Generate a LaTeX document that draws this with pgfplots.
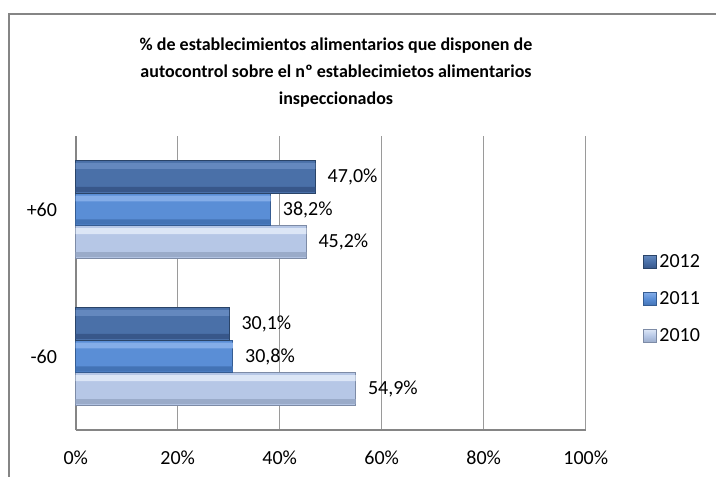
\documentclass[border=0pt]{standalone}
\usepackage{pgfplots}
\usepackage{pgfplotstable}
\pgfplotsset{compat=1.18}
\usepackage{fontspec}
\setmainfont{Carlito}
\definecolor{t12}{HTML}{6488BE}
\definecolor{m12}{HTML}{4A70A8}
\definecolor{b12}{HTML}{38578A}
\definecolor{d12}{HTML}{2A4468}
\definecolor{t11}{HTML}{84ADE8}
\definecolor{m11}{HTML}{5A8ED6}
\definecolor{b11}{HTML}{4373B5}
\definecolor{d11}{HTML}{355C92}
\definecolor{t10}{HTML}{DCE6F6}
\definecolor{m10}{HTML}{B6C7E6}
\definecolor{b10}{HTML}{9AABC9}
\definecolor{d10}{HTML}{7D8BA6}
\definecolor{gridc}{HTML}{9A9A9A}
\definecolor{axc}{HTML}{858585}
\pgfplotstableread{
y v10 v11 v12
0 54.9 30.8 30.1
1 45.2 38.2 47.0
}\datatab
\pgfkeys{/pgf/number format/assume math mode=true}
\begin{document}
\begin{tikzpicture}[x=0.75pt,y=0.75pt]
\useasboundingbox (0,0) rectangle (716,476);
\draw[axc, line width=1.1pt] (9,-10) -- (9,462) -- (730,462);
\node[font=\bfseries\fontsize{13.5}{20.25}\selectfont, align=center] at (336,403)
  {\% de establecimientos alimentarios que disponen de\\autocontrol sobre el nº establecimietos alimentarios\\inspeccionados};
\begin{axis}[
  at={(56.8pt,34.5pt)}, anchor=south west,
  width=382.5pt, height=220.5pt, scale only axis,
  xbar, bar width=0.222,
  xmin=0, xmax=100, ymin=-0.5, ymax=1.5,
  ytick={0,1}, yticklabels={-60,+60},
  xtick={0,20,40,60,80,100},
  xticklabel={\pgfmathprintnumber{\tick}\%},
  major tick length=0,
  axis lines*=left,
  axis line style={axc, line width=1.5pt},
  xmajorgrids, grid style={gridc, line width=1.1pt},
  ticklabel style={font=\fontsize{15}{18}\selectfont},
  xticklabel style={yshift=-12pt},
  yticklabel style={xshift=-10.5pt},
  every node near coord/.append style={font=\fontsize{15}{18}\selectfont, black, xshift=5.5pt},
  lab/.style={nodes near coords={\pgfmathprintnumber[fixed,fixed zerofill,precision=1,use comma]{\pgfplotspointmeta}\%}},
  hi/.style={forget plot, draw=none, bar width=0.04},
  lo/.style={forget plot, draw=none, bar width=0.035},
  legend style={at={(1.112,0.446)}, anchor=west, draw=none, fill=none,
    font=\fontsize{15}{18}\selectfont, row sep=12.6pt, inner sep=0pt,
    cells={anchor=west}},
  clip=false,
]
\addlegendimage{legend image code/.code={\draw[d12, top color=t12, bottom color=b12, middle color=m12] (0pt,-4.9pt) rectangle (9.8pt,4.9pt);}}
\addlegendentry{2012}
\addlegendimage{legend image code/.code={\draw[d11, top color=t11, bottom color=b11, middle color=m11] (0pt,-4.9pt) rectangle (9.8pt,4.9pt);}}
\addlegendentry{2011}
\addlegendimage{legend image code/.code={\draw[d10, top color=t10, bottom color=b10, middle color=m10] (0pt,-4.9pt) rectangle (9.8pt,4.9pt);}}
\addlegendentry{2010}
% 2010
\addplot[forget plot, lab, draw=d10, line width=0.8pt, fill=m10, bar shift=-0.222] table[x=v10,y=y] {\datatab};
\addplot[hi, fill=t10, bar shift=-0.222+0.075] table[x=v10,y=y] {\datatab};
\addplot[lo, fill=b10, bar shift=-0.222-0.085] table[x=v10,y=y] {\datatab};
% 2011
\addplot[forget plot, lab, draw=d11, line width=0.8pt, fill=m11, bar shift=0] table[x=v11,y=y] {\datatab};
\addplot[hi, fill=t11, bar shift=0.075] table[x=v11,y=y] {\datatab};
\addplot[lo, fill=b11, bar shift=-0.085] table[x=v11,y=y] {\datatab};
% 2012
\addplot[forget plot, lab, draw=d12, line width=0.8pt, fill=m12, bar shift=0.222] table[x=v12,y=y] {\datatab};
\addplot[hi, fill=t12, bar shift=0.222+0.075] table[x=v12,y=y] {\datatab};
\addplot[lo, fill=b12, bar shift=0.222-0.085] table[x=v12,y=y] {\datatab};
\end{axis}
\end{tikzpicture}
\end{document}
